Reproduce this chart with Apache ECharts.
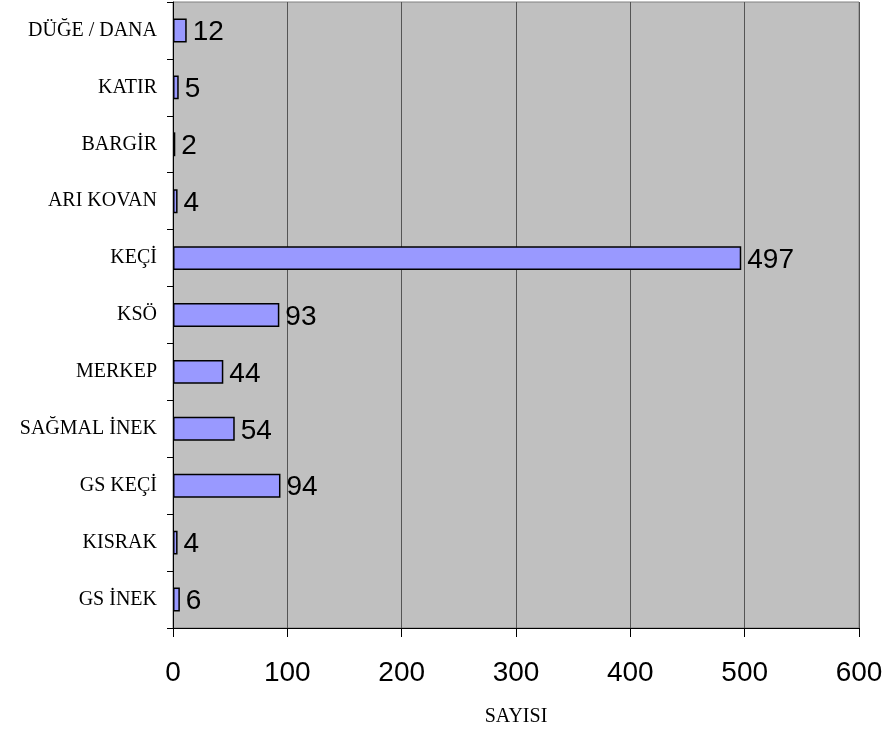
<!DOCTYPE html>
<html>
<head>
<meta charset="utf-8">
<script src="https://cdn.jsdelivr.net/npm/echarts@6/dist/echarts.min.js"></script>
<style>
html, body { margin: 0; padding: 0; background: #fff; }
#main { width: 888px; height: 733px; }
</style>
</head>
<body>
<div id="main"></div>
<script>
// categories listed bottom to top (ECharts category axis starts at the bottom)
var categories = ['GS İNEK', 'KISRAK', 'GS KEÇİ', 'SAĞMAL İNEK', 'MERKEP', 'KSÖ', 'KEÇİ', 'ARI KOVAN', 'BARGİR', 'KATIR', 'DÜĞE / DANA'];
var counts = [6, 4, 94, 54, 44, 93, 497, 4, 2, 5, 12];
var xTicks = [0, 100, 200, 300, 400, 500, 600];

var chart = echarts.init(document.getElementById('main'));
var option = {
    animation: false,
    grid: {
        left: 173,
        right: 29,
        top: 2,
        bottom: 105,
        show: true,
        backgroundColor: '#c0c0c0',
        borderColor: '#808080',
        borderWidth: 1
    },
    xAxis: {
        type: 'value',
        min: xTicks[0],
        max: xTicks[xTicks.length - 1],
        interval: 100,
        name: 'SAYISI',
        nameLocation: 'middle',
        nameGap: 79,
        nameMoveOverlap: false,
        nameTextStyle: { fontFamily: 'Liberation Serif', fontSize: 20, color: '#000' },
        axisLine: { show: true, lineStyle: { color: '#000', width: 1 } },
        axisTick: { show: true, length: 9, lineStyle: { color: '#000' } },
        axisLabel: { fontFamily: 'Liberation Sans', fontSize: 28, color: '#000', margin: 31 },
        splitLine: { show: true, lineStyle: { color: '#555', width: 1 } }
    },
    yAxis: {
        type: 'category',
        data: categories,
        axisLine: { show: true, lineStyle: { color: '#000', width: 1 } },
        axisTick: { show: true, length: 6, lineStyle: { color: '#000' } },
        axisLabel: { fontFamily: 'Liberation Serif', fontSize: 20, color: '#000', margin: 16 },
        splitLine: { show: false }
    },
    series: [
        {
            type: 'bar',
            data: counts,
            barCategoryGap: '58%',
            itemStyle: { color: '#9999ff', borderColor: '#000', borderWidth: 1.5 },
            label: {
                show: true,
                position: 'right',
                distance: 6,
                offset: [0, 2],
                fontFamily: 'Liberation Sans',
                fontSize: 28,
                color: '#000'
            }
        }
    ]
};
chart.setOption(option);
</script>
</body>
</html>
